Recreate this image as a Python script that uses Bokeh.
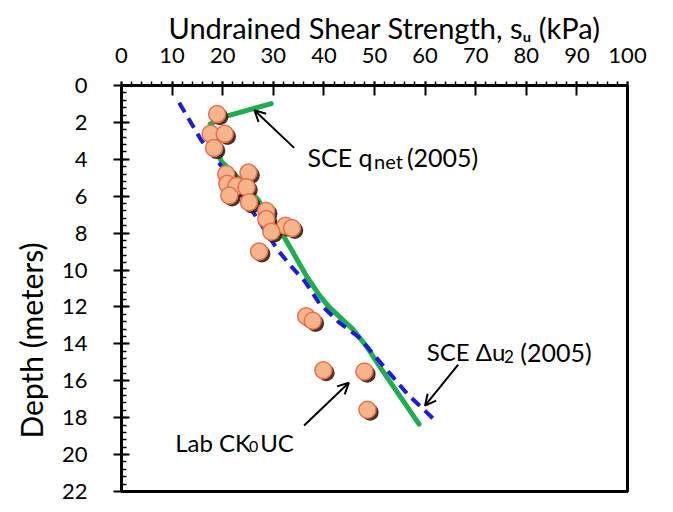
from bokeh.plotting import figure
from bokeh.models import Range1d, Label, Arrow, OpenHead, ColumnDataSource, SingleIntervalTicker, Title
from bokeh.transform import dodge
from bokeh.embed import file_html
from bokeh.resources import INLINE

# ---- data ----
lab_su = [18.9, 17.6, 20.4, 18.3, 20.7, 25.1, 20.9, 22.7, 24.7, 21.3, 25.2,
          28.6, 28.6, 32.4, 33.7, 29.6, 27.2, 36.5, 37.8, 39.9, 48.0, 48.6]
lab_depth = [1.55, 2.62, 2.62, 3.39, 4.80, 4.72, 5.33, 5.44, 5.51, 5.96, 6.33,
             6.80, 7.24, 7.60, 7.72, 7.92, 8.99, 12.50, 12.75, 15.43, 15.50, 17.57]

qnet_su = [29.6, 20.2, 17.5, 18.3, 19.7, 23.4, 27.0, 29.2, 31.9, 33.8, 36.5,
           39.2, 41.0, 45.7, 48.6, 51.5, 55.5, 58.8]
qnet_depth = [0.98, 1.70, 2.10, 3.00, 4.10, 5.10, 6.20, 7.10, 8.10, 9.00, 10.30,
              11.40, 12.00, 13.20, 14.20, 15.42, 17.02, 18.35]

du2_su = [11.4, 15.8, 20.1, 26.3, 30.9, 33.9, 36.2, 39.1, 43.0, 46.9, 51.9,
          56.6, 59.4, 62.4]
du2_depth = [0.94, 2.98, 4.49, 6.98, 8.93, 9.91, 10.60, 11.80, 12.84, 13.64,
             15.24, 16.75, 17.47, 18.27]

x_title = "Undrained Shear Strength, s\u1d64 (kPa)"
y_title = "Depth (meters)"

FONT = "Lato"
FONT_FB = "Lato, DejaVu Sans"

p = figure(width=657, height=504,
           x_range=Range1d(0, 100), y_range=Range1d(22, 0),
           x_axis_location="above",
           output_backend="svg", toolbar_location=None,
           min_border_left=118, min_border_top=85,
           min_border_right=30, min_border_bottom=13)

p.background_fill_color = "white"
p.border_fill_color = "white"
p.grid.visible = False
p.outline_line_color = "black"
p.outline_line_width = 3

p.xaxis.ticker = SingleIntervalTicker(interval=10, num_minor_ticks=5)
p.yaxis.ticker = SingleIntervalTicker(interval=2, num_minor_ticks=5)

for ax in (p.xaxis, p.yaxis):
    ax.axis_line_width = 3
    ax.axis_line_color = "black"
    ax.major_tick_line_width = 2
    ax.minor_tick_line_width = 1.5
    ax.major_tick_line_color = "black"
    ax.minor_tick_line_color = "black"
    ax.major_label_text_font = FONT
    ax.major_label_text_font_size = "22px"
    ax.major_label_text_color = "black"

p.xaxis.major_tick_in = 10
p.xaxis.major_tick_out = 4
p.xaxis.minor_tick_in = 0
p.xaxis.minor_tick_out = 4
p.xaxis.major_label_standoff = 19

p.yaxis.major_tick_in = 8
p.yaxis.major_tick_out = 8
p.yaxis.minor_tick_in = 5
p.yaxis.minor_tick_out = 0
p.yaxis.major_label_standoff = 26

# x title (placed above the tick labels)
p.add_layout(Title(text=x_title, align="left", offset=47, standoff=0,
                   text_font=FONT_FB, text_font_size="29px", text_font_style="normal",
                   text_color="black"), "above")

# y title
p.add_layout(Title(text=y_title, align="left", offset=53, standoff=20,
                   text_font=FONT, text_font_size="30px", text_font_style="normal",
                   text_color="black"), "left")

# lines
p.line(qnet_su, qnet_depth, line_color="#1fae4f", line_width=5, line_cap="round", line_join="round")
p.line(du2_su, du2_depth, line_color="#1a1ae0", line_width=4, line_dash="11 7")

# points with shadow
src = ColumnDataSource(dict(su=lab_su, depth=lab_depth))
p.scatter(x=dodge("su", 0.55), y=dodge("depth", 0.14), source=src, size=17,
          fill_color="#3a1c0c", line_color=None, fill_alpha=0.9)
p.scatter(x="su", y="depth", source=src, size=17,
          fill_color="#f6b48a", line_color="#e8704f", line_width=1.5)

def txt(x, y, t, size):
    p.add_layout(Label(x=x, y=y, text=t, text_font=FONT, text_font_size=size,
                       text_color="black", text_align="left", text_baseline="alphabetic"))

# annotations
txt(36.74, 3.90, "SCE q", "25px")
txt(49.9, 4.11, "net", "20px")
txt(56.4, 3.90, "(2005)", "25px")

txt(60.31, 14.42, "SCE \u0394u", "24px")
txt(75.6, 14.68, "2", "17px")
txt(78.8, 14.42, "(2005)", "25px")

txt(10.61, 19.33, "Lab CK", "24px")
txt(25.2, 19.54, "0", "16px")
txt(27.4, 19.33, "UC", "24px")

for xs, ys, xe, ye in [(34.12, 3.38, 26.26, 1.34),
                       (66.54, 15.13, 59.98, 17.35),
                       (36.09, 18.42, 44.93, 16.11)]:
    p.add_layout(Arrow(end=OpenHead(size=11, line_width=2, line_color="black"),
                       x_start=xs, y_start=ys, x_end=xe, y_end=ye,
                       line_width=2, line_color="black"))

open("out.html", "w").write(file_html(p, INLINE))
